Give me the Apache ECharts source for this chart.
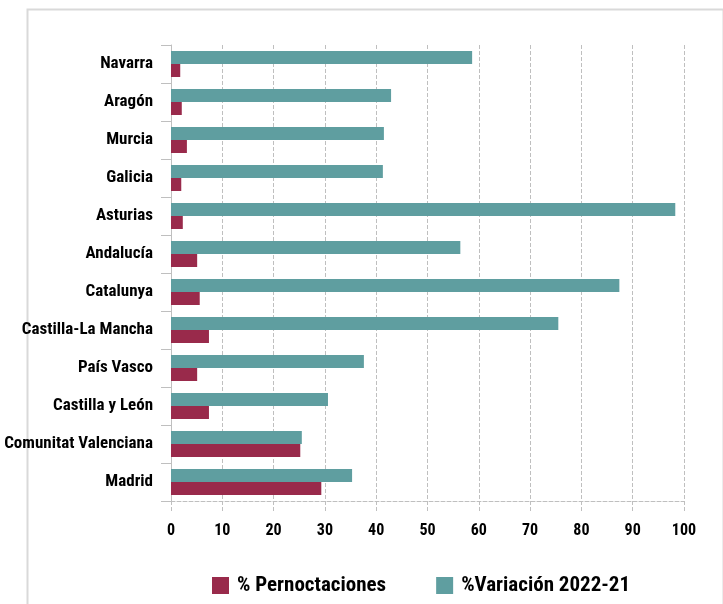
<!DOCTYPE html>
<html>
<head>
<meta charset="utf-8">
<script src="https://cdn.jsdelivr.net/npm/echarts@6/dist/echarts.min.js"></script>
<style>
  html, body { margin: 0; padding: 0; background: #fff; }
  #chart { width: 723px; height: 604px; }
</style>
</head>
<body>
<div id="chart"></div>
<script>
// regiones, de abajo (Madrid) a arriba (Navarra)
const regiones = ['Madrid', 'Comunitat Valenciana', 'Castilla y León', 'País Vasco',
  'Castilla-La Mancha', 'Catalunya', 'Andalucía', 'Asturias', 'Galicia', 'Murcia',
  'Aragón', 'Navarra']
const pernoctaciones = [29.3, 25.2, 7.4, 5.1, 7.4, 5.6, 5.1, 2.3, 2.0, 3.1, 2.1, 1.8]
const variacion = [35.3, 25.5, 30.6, 37.6, 75.5, 87.4, 56.4, 98.3, 41.3, 41.5, 42.9, 58.7]
const serieNombres = ['% Pernoctaciones', '%Variación 2022-21']

// fuente estrecha: Roboto con font-stretch condensed
const font = 'Roboto'
const peso = 'bold condensed'
const gris = '#bfbfbf'

const myChart = echarts.init(document.getElementById('chart'))

const option = {
  animation: false,
  textStyle: { fontFamily: font, fontWeight: peso },
  graphic: [{
    type: 'rect',
    left: 25,
    top: 7,
    shape: { width: 696, height: 640 },
    style: { fill: 'none', stroke: '#d9d9d9', lineWidth: 2 },
    silent: true
  }],
  grid: { left: 171, right: 39, top: 45, bottom: 103, containLabel: false, outerBoundsMode: 'none' },
  legend: {
    top: 570,
    left: 207,
    itemWidth: 17,
    itemHeight: 17,
    itemGap: 50,
    icon: 'rect',
    textStyle: { fontFamily: font, fontWeight: peso, fontSize: 21, color: '#000', padding: [0, 0, 0, 3] },
    data: serieNombres
  },
  xAxis: {
    type: 'value',
    min: 0,
    max: 100,
    interval: 10,
    axisLine: { show: true, lineStyle: { color: gris, type: 'dashed' } },
    axisTick: { show: true, length: 11, lineStyle: { color: gris, type: 'dashed' } },
    splitLine: { show: true, lineStyle: { color: gris, type: 'dashed' } },
    axisLabel: { color: '#000', fontFamily: font, fontWeight: peso, fontSize: 16, margin: 22 }
  },
  yAxis: {
    type: 'category',
    data: regiones,
    axisLine: { show: true, lineStyle: { color: gris } },
    axisTick: { show: true, length: 10, lineStyle: { color: gris } },
    axisLabel: { color: '#000', fontFamily: font, fontWeight: peso, fontSize: 17, margin: 18 }
  },
  series: [
    {
      name: serieNombres[1],
      type: 'bar',
      data: variacion,
      barWidth: 13,
      barGap: '0%',
      itemStyle: { color: '#5F9EA0' }
    },
    {
      name: serieNombres[0],
      type: 'bar',
      data: pernoctaciones,
      barWidth: 13,
      barGap: '0%',
      itemStyle: { color: '#992A4B' }
    }
  ]
}

myChart.setOption(option)
</script>
</body>
</html>
